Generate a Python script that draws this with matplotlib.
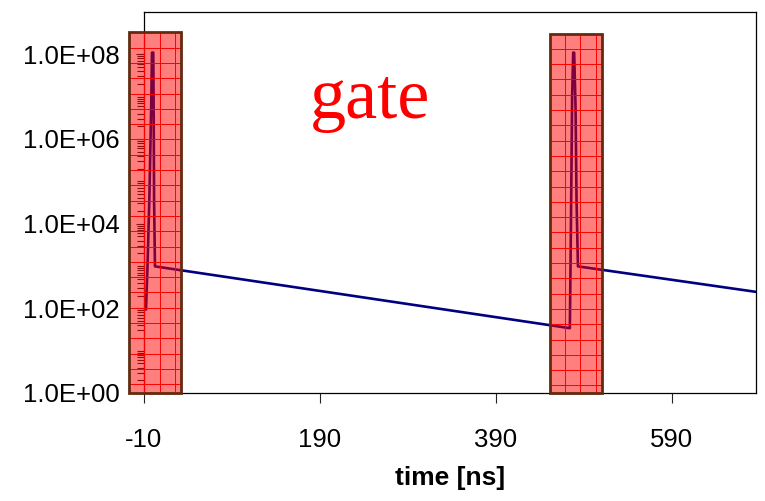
import numpy as np
import matplotlib
matplotlib.use("Agg")
import matplotlib.pyplot as plt
from matplotlib.patches import Rectangle
from matplotlib.collections import LineCollection
from matplotlib.ticker import FixedLocator, FuncFormatter, NullFormatter

# ---- data ----
time_ns = [-7.4, -5.8, -3.6, -1.4, -0.6, 0.9, 1.3, 1.8, 2.8,
           474.4, 475.2, 477.0, 478.2, 479.3, 480.9, 482.0, 483.6, 686.0]
signal = [95, 810, 3.7e4, 7.2e6, 1.1e8, 1.1e8, 7.2e6, 3.7e4, 980,
          34, 1070, 1.0e7, 1.1e8, 1.1e8, 5.5e6, 3.7e4, 980, 245]

gate_start = [-26.7, 451.7]
gate_end = [32.4, 510.8]
gate_top = [3.3e8, 3.1e8]

x_ticks = [-10, 190, 390, 590]
y_ticks = [1e0, 1e2, 1e4, 1e6, 1e8]

plt.rcParams['font.family'] = ['Liberation Sans', 'DejaVu Sans']

W, H = 765, 501
fig = plt.figure(figsize=(W / 100, H / 100), dpi=100)
ax_l, ax_r, ax_t, ax_b = 143.7, 756.0, 12.0, 393.0
ax = fig.add_axes([ax_l / W, (H - ax_b) / H, (ax_r - ax_l) / W, (ax_b - ax_t) / H])

ax.set_yscale('log')
ax.set_xlim(-10, 686)
ax.set_ylim(1, 1e9)

ax.plot(time_ns, signal, color='#000080', lw=1.9, zorder=2, solid_joinstyle='round')

# gate rectangles with inner grid
px_per_ns = (ax_r - ax_l) / 696.0
px_per_dec = (ax_b - ax_t) / 9.0
cell_px = 15.3
dx = cell_px / px_per_ns
ddec = cell_px / px_per_dec
for x0, x1, top in zip(gate_start, gate_end, gate_top):
    ax.add_patch(Rectangle((x0, 1), x1 - x0, top - 1, facecolor=(1, 0, 0, 0.5),
                           edgecolor='none', zorder=3, clip_on=False))
    segs = []
    xv = x0 + dx
    while xv < x1 - 1:
        segs.append([(xv, 1), (xv, top)])
        xv += dx
    lt = np.log10(top) - ddec
    while lt > 0.05:
        segs.append([(x0, 10 ** lt), (x1, 10 ** lt)])
        lt -= ddec
    ax.add_collection(LineCollection(segs, colors='#FF0000', linewidths=0.7,
                                     zorder=3.1, clip_on=False))
    ax.add_patch(Rectangle((x0, 1), x1 - x0, top - 1, facecolor='none',
                           edgecolor='#642A0E', lw=2.0, zorder=3.2, clip_on=False))

ax.text(0.3696, 0.722, 'gate', transform=ax.transAxes, ha='center', va='baseline',
        color='#FF0000', fontsize=52, family=['Liberation Serif', 'DejaVu Serif'])

# axes styling
for s in ax.spines.values():
    s.set_color('black')
    s.set_linewidth(0.9)

minor_y = [m * 10.0 ** d for d in range(0, 8) for m in range(1, 10)
           if not (m == 1 and d % 2 == 0)]
ax.xaxis.set_major_locator(FixedLocator(x_ticks))
ax.set_xticklabels([str(v) for v in x_ticks])
ax.yaxis.set_major_locator(FixedLocator(y_ticks))
ax.yaxis.set_major_formatter(FuncFormatter(lambda v, p: f"{v:.1E}"))
ax.yaxis.set_minor_locator(FixedLocator(minor_y))
ax.yaxis.set_minor_formatter(NullFormatter())

ax.tick_params(axis='x', which='major', direction='out', length=7, width=0.8,
               color='#222222', labelsize=18.5, pad=18)
ax.tick_params(axis='y', which='major', direction='out', length=6, width=0.8,
               color='#222222', labelsize=18.5, pad=11)
ax.tick_params(axis='y', which='minor', direction='out', length=5, width=0.8,
               color='#222222')
ax.set_xlabel('time [ns]', fontsize=19, fontweight='bold', labelpad=10)

fig.savefig('out.png', dpi=100)
